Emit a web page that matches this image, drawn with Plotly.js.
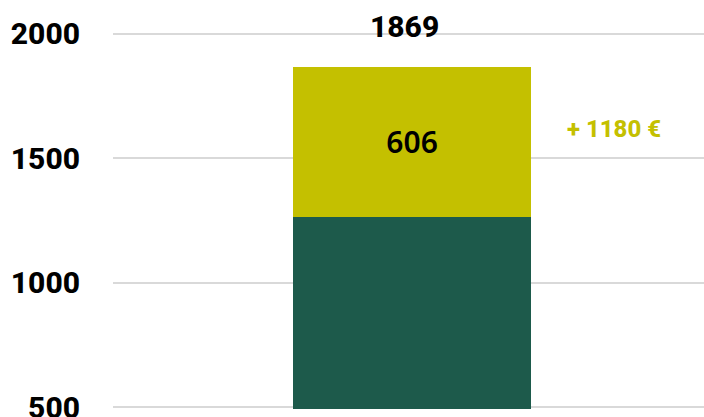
<!DOCTYPE html>
<html>
<head>
<meta charset="utf-8">
<script src="https://cdn.plot.ly/plotly-3.0.1.min.js"></script>
<style>html,body{margin:0;padding:0;background:#fff;}#chart{width:704px;height:417px;}</style>
</head>
<body>
<div id="chart"></div>
<script>
const categories = [0];
const baseValues = [1263];
const addedValues = [606];
const totalValues = [1869];
const extraLabel = "+ 1180 €";
const yTicks = [500, 1000, 1500, 2000];

const green = "#1d5a4b";
const yellow = "#c4c000";

const traces = [
  {type: "bar", x: categories, y: baseValues, marker: {color: green}, width: 0.404, hoverinfo: "none"},
  {type: "bar", x: categories, y: addedValues, marker: {color: yellow}, width: 0.404,
   text: addedValues.map(String), textposition: "inside", insidetextanchor: "middle",
   textfont: {family: "Noto Sans", size: 30, color: "#000", weight: 600}, hoverinfo: "none"}
];

const layout = {
  width: 704, height: 417,
  margin: {l: 113, r: 0, t: 32, b: 8},
  barmode: "stack",
  showlegend: false,
  paper_bgcolor: "#fff", plot_bgcolor: "#fff",
  xaxis: {range: [-0.506, 0.494], showticklabels: false, showgrid: false, zeroline: false, fixedrange: true},
  yaxis: {range: [492, 2008], tickvals: yTicks, ticktext: yTicks.map(String), ticks: "",
    showgrid: true, gridcolor: "#d9d9d9", gridwidth: 2, zeroline: false, ticklabelstandoff: 32,
    ticklabeloverflow: "allow",
    tickfont: {family: "Roboto", size: 30, color: "#000", weight: 800}},
  annotations: [
    {x: categories[0], y: totalValues[0], xref: "x", yref: "y", text: String(totalValues[0]),
     showarrow: false, yanchor: "middle", yshift: 40, xshift: -8,
     font: {family: "Roboto", size: 30, color: "#000", weight: 800}},
    {x: 0.847, y: 1616, xref: "paper", yref: "y", text: extraLabel, showarrow: false,
     xanchor: "center", yanchor: "middle",
     font: {family: "Roboto", size: 24, color: yellow, weight: 800}}
  ]
};

Plotly.newPlot("chart", traces, layout, {displayModeBar: false, staticPlot: true});
</script>
</body>
</html>
